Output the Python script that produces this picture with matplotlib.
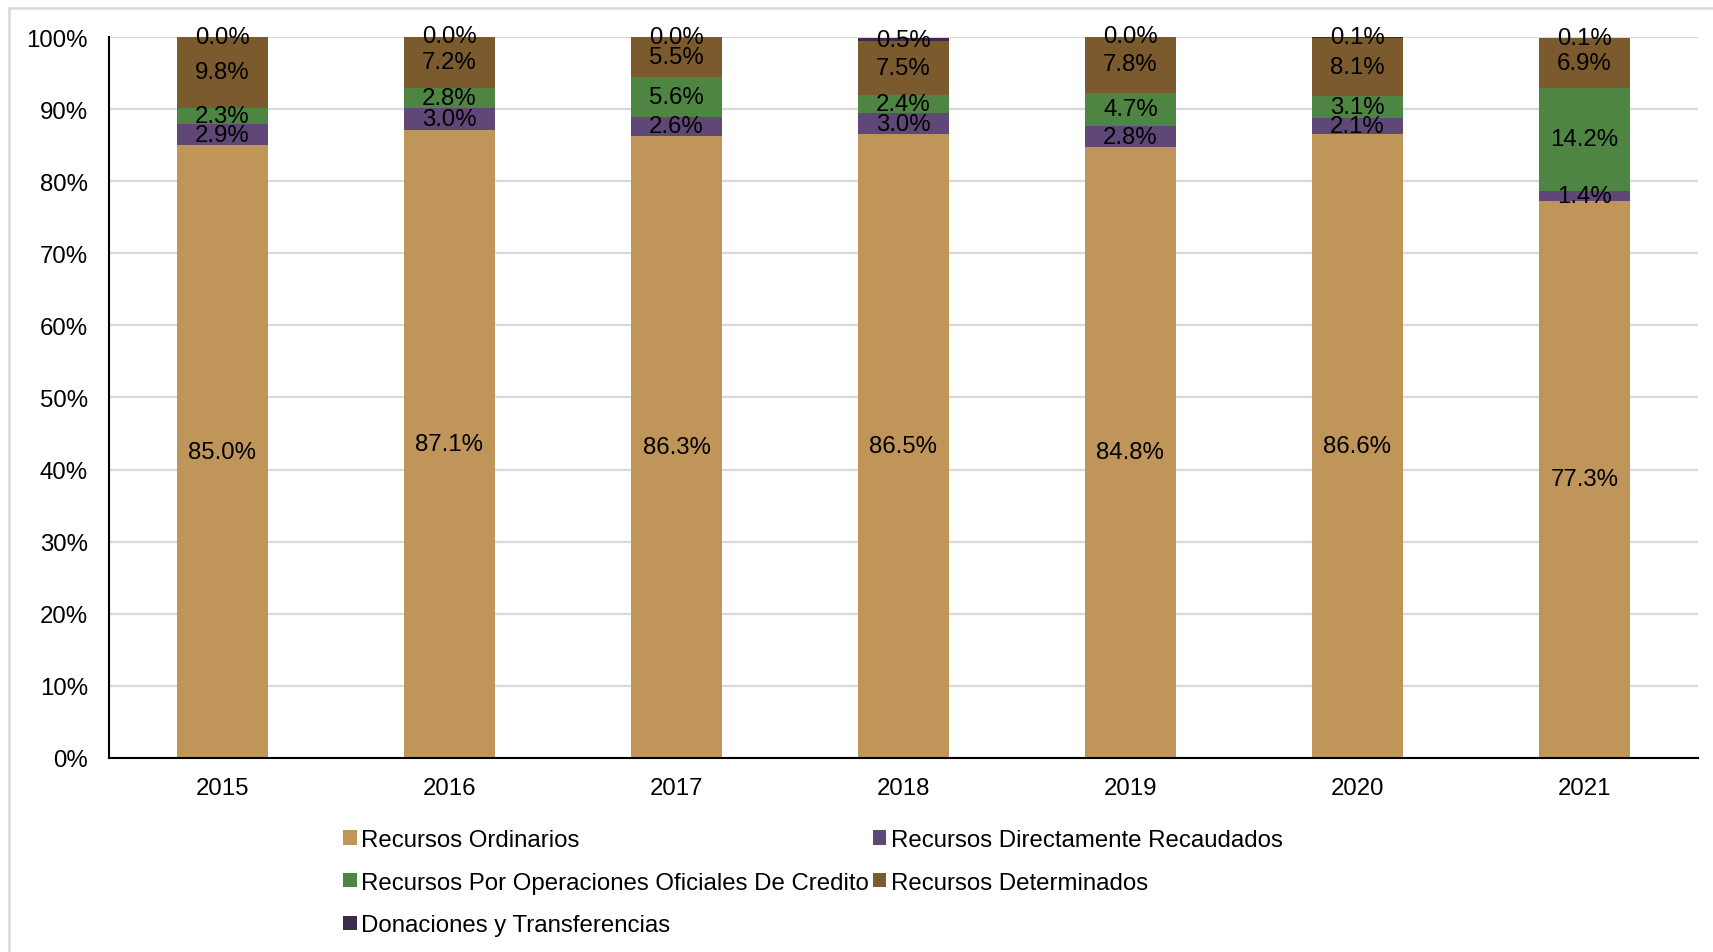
import numpy as np
import matplotlib.pyplot as plt
from matplotlib.lines import Line2D

plt.rcParams['font.family'] = ['Liberation Sans', 'DejaVu Sans']

years = ['2015', '2016', '2017', '2018', '2019', '2020', '2021']
ordinarios = [85.0, 87.1, 86.3, 86.5, 84.8, 86.6, 77.3]
directamente = [2.9, 3.0, 2.6, 3.0, 2.8, 2.1, 1.4]
credito = [2.3, 2.8, 5.6, 2.4, 4.7, 3.1, 14.2]
determinados = [9.8, 7.2, 5.5, 7.5, 7.8, 8.1, 6.9]
donaciones = [0.0, 0.0, 0.0, 0.5, 0.0, 0.1, 0.1]

series = [
    ('Recursos Ordinarios', ordinarios, '#C0955A'),
    ('Recursos Directamente Recaudados', directamente, '#5F4878'),
    ('Recursos Por Operaciones Oficiales De Credito', credito, '#4E8542'),
    ('Recursos Determinados', determinados, '#7B5B2E'),
    ('Donaciones y Transferencias', donaciones, '#3B2A4A'),
]

FS = 17.3

fig = plt.figure(figsize=(17.13, 9.53), dpi=100)
ax = fig.add_axes([0.0636, 0.2036, 0.9276, 0.7565])

x = np.arange(len(years))
bottom = np.zeros(len(years))
handles = {}
for name, vals, color in series:
    vals = np.array(vals)
    bars = ax.bar(x, vals, width=0.4, bottom=bottom, color=color, label=name,
                  zorder=2)
    handles[name] = bars
    for xi, b, v in zip(x, bottom, vals):
        ax.text(xi, b + v / 2, f'{v:.1f}%', ha='center', va='center',
                fontsize=FS, color='black', zorder=3)
    bottom += vals

ax.set_xlim(-0.5, len(years) - 0.5)
ax.set_ylim(0, 100)
ax.set_yticks(np.arange(0, 101, 10))
ax.set_yticklabels([f'{t}%' for t in range(0, 101, 10)])
ax.set_xticks(x)
ax.set_xticklabels(years)
ax.tick_params(axis='both', length=0, labelsize=FS)
ax.tick_params(axis='y', pad=15)
ax.tick_params(axis='x', pad=14)
ax.yaxis.grid(True, color='#D9D9D9', linewidth=1.6, zorder=0)
ax.set_axisbelow(True)
for s in ['top', 'right']:
    ax.spines[s].set_visible(False)
ax.spines['left'].set_linewidth(1.5)
ax.spines['bottom'].set_linewidth(1.5)
ax.spines['bottom'].set_zorder(4)

# legend: two columns, filled column by column
order = ['Recursos Ordinarios', 'Recursos Por Operaciones Oficiales De Credito',
         'Donaciones y Transferencias', 'Recursos Directamente Recaudados',
         'Recursos Determinados']
leg = fig.legend([handles[n] for n in order], order, ncol=2,
                 loc='upper left', bbox_to_anchor=(0.2005, 0.129),
                 frameon=False, fontsize=FS, handlelength=0.55,
                 handleheight=0.55, handletextpad=0.2, columnspacing=0.15,
                 labelspacing=0.86, borderaxespad=0, borderpad=0)

# light chart-area border
fig.add_artist(Line2D([9 / 1713, 9 / 1713], [0, 1 - 9 / 953],
                      transform=fig.transFigure, color='#D9D9D9', linewidth=1.8))
fig.add_artist(Line2D([9 / 1713, 1], [1 - 9 / 953, 1 - 9 / 953],
                      transform=fig.transFigure, color='#D9D9D9', linewidth=1.8))

fig.savefig('out.png', dpi=100)
